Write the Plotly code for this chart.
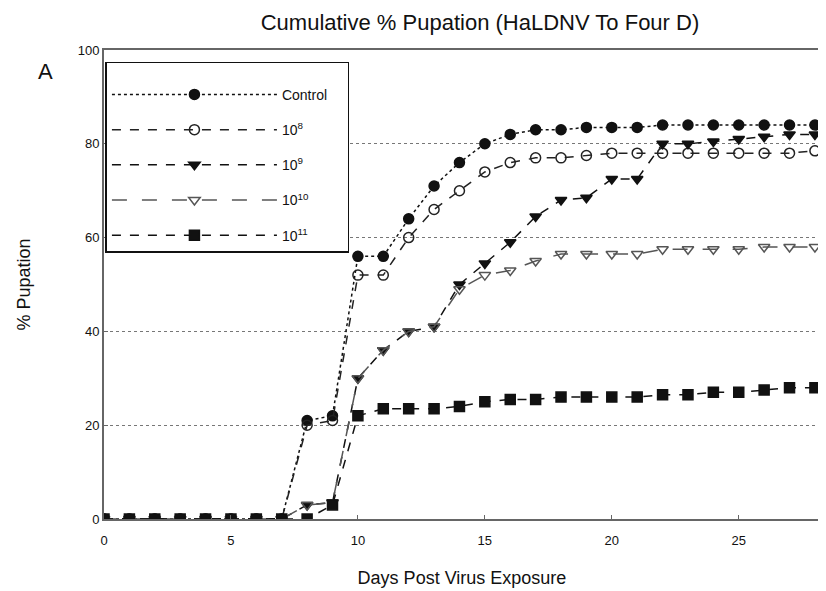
import plotly.graph_objects as go

days = list(range(0, 29))
control = [0]*8 + [21, 22, 56, 56, 64, 71, 76, 80, 82, 83, 83, 83.5, 83.5, 83.5, 84, 84, 84, 84, 84, 84, 84]
dose_1e8 = [0]*8 + [20, 21, 52, 52, 60, 66, 70, 74, 76, 77, 77, 77.5, 78, 78, 78, 78, 78, 78, 78, 78, 78.5]
dose_1e9 = [0]*8 + [3, 3.5, 30, 36, 40, 41, 50, 54.5, 59, 64.5, 68, 68.5, 72.5, 72.5, 80, 80, 80.5, 81, 81.5, 82, 82]
dose_1e10 = [0]*8 + [3, 3.5, 30, 36, 40, 41, 49, 52, 53, 55, 56.5, 56.5, 56.5, 56.5, 57.5, 57.5, 57.5, 57.5, 58, 58, 58]
dose_1e11 = [0]*9 + [3, 22, 23.5, 23.5, 23.5, 24, 25, 25.5, 25.5, 26, 26, 26, 26, 26.5, 26.5, 27, 27, 27.5, 28, 28]

pad = "\u00a0" * 4
names = ["Control", "10<sup>8</sup>", "10<sup>9</sup>", "10<sup>10</sup>", "10<sup>11</sup>"]
series = [control, dose_1e8, dose_1e9, dose_1e10, dose_1e11]
symbols = ["circle", "circle-open", "triangle-down", "triangle-down-open", "square"]
dashes = ["dot", "dash", "dash", "longdash", "dash"]
colors = ["#111111", "#222222", "#111111", "#555555", "#111111"]

fig = go.Figure()
for i, (nm, ys) in enumerate(zip(names, series)):
    fig.add_trace(go.Scatter(
        x=days, y=ys, name=nm + pad, mode="lines+markers", legendgroup=f"g{i}",
        line=dict(color=colors[i], width=1.5, dash=dashes[i]),
        marker=dict(symbol=symbols[i], size=10, color=colors[i],
                    line=dict(color=colors[i], width=1.5)),
    ))

font = "Liberation Sans, Arial, sans-serif"
fig.update_layout(
    width=818, height=583,
    margin=dict(l=96, r=4, t=42, b=72),
    paper_bgcolor="white", plot_bgcolor="white",
    font=dict(family=font, color="#111111"),
    title=dict(text="Cumulative % Pupation (HaLDNV To Four D)", x=0.577, xanchor="center",
               y=0.976, yanchor="middle", font=dict(size=22, color="#111111")),
    xaxis=dict(range=[0, 28.2], tickvals=[0, 5, 10, 15, 20, 25], showgrid=False,
               showline=True, linecolor="#666666", linewidth=2, mirror=True,
               ticks="inside", ticklen=4, tickcolor="#666666", zeroline=False,
               tickfont=dict(size=13), ticklabelstandoff=8,
               title=dict(text="Days Post Virus Exposure", font=dict(size=18), standoff=25)),
    yaxis=dict(range=[0, 100], tickvals=[0, 20, 40, 60, 80, 100], showgrid=True,
               gridcolor="#777777", griddash="dot", gridwidth=1,
               showline=True, linecolor="#666666", linewidth=2, mirror=True,
               ticks="inside", ticklen=4, tickcolor="#666666", zeroline=False,
               tickfont=dict(size=13),
               title=dict(text="% Pupation", font=dict(size=18), standoff=42)),
    legend=dict(x=0.002, y=0.975, xanchor="left", yanchor="top",
                bordercolor="#111111", borderwidth=1.5, bgcolor="white",
                itemwidth=165, font=dict(size=14), tracegroupgap=14,
                traceorder="grouped",
                title=dict(text="\u00a0", font=dict(size=12))),
    showlegend=True,
)
fig.add_annotation(text="A", xref="paper", yref="paper", x=-0.0945, y=0.985,
                   showarrow=False, font=dict(size=22, color="#111111"))

fig.write_html("out.html")
